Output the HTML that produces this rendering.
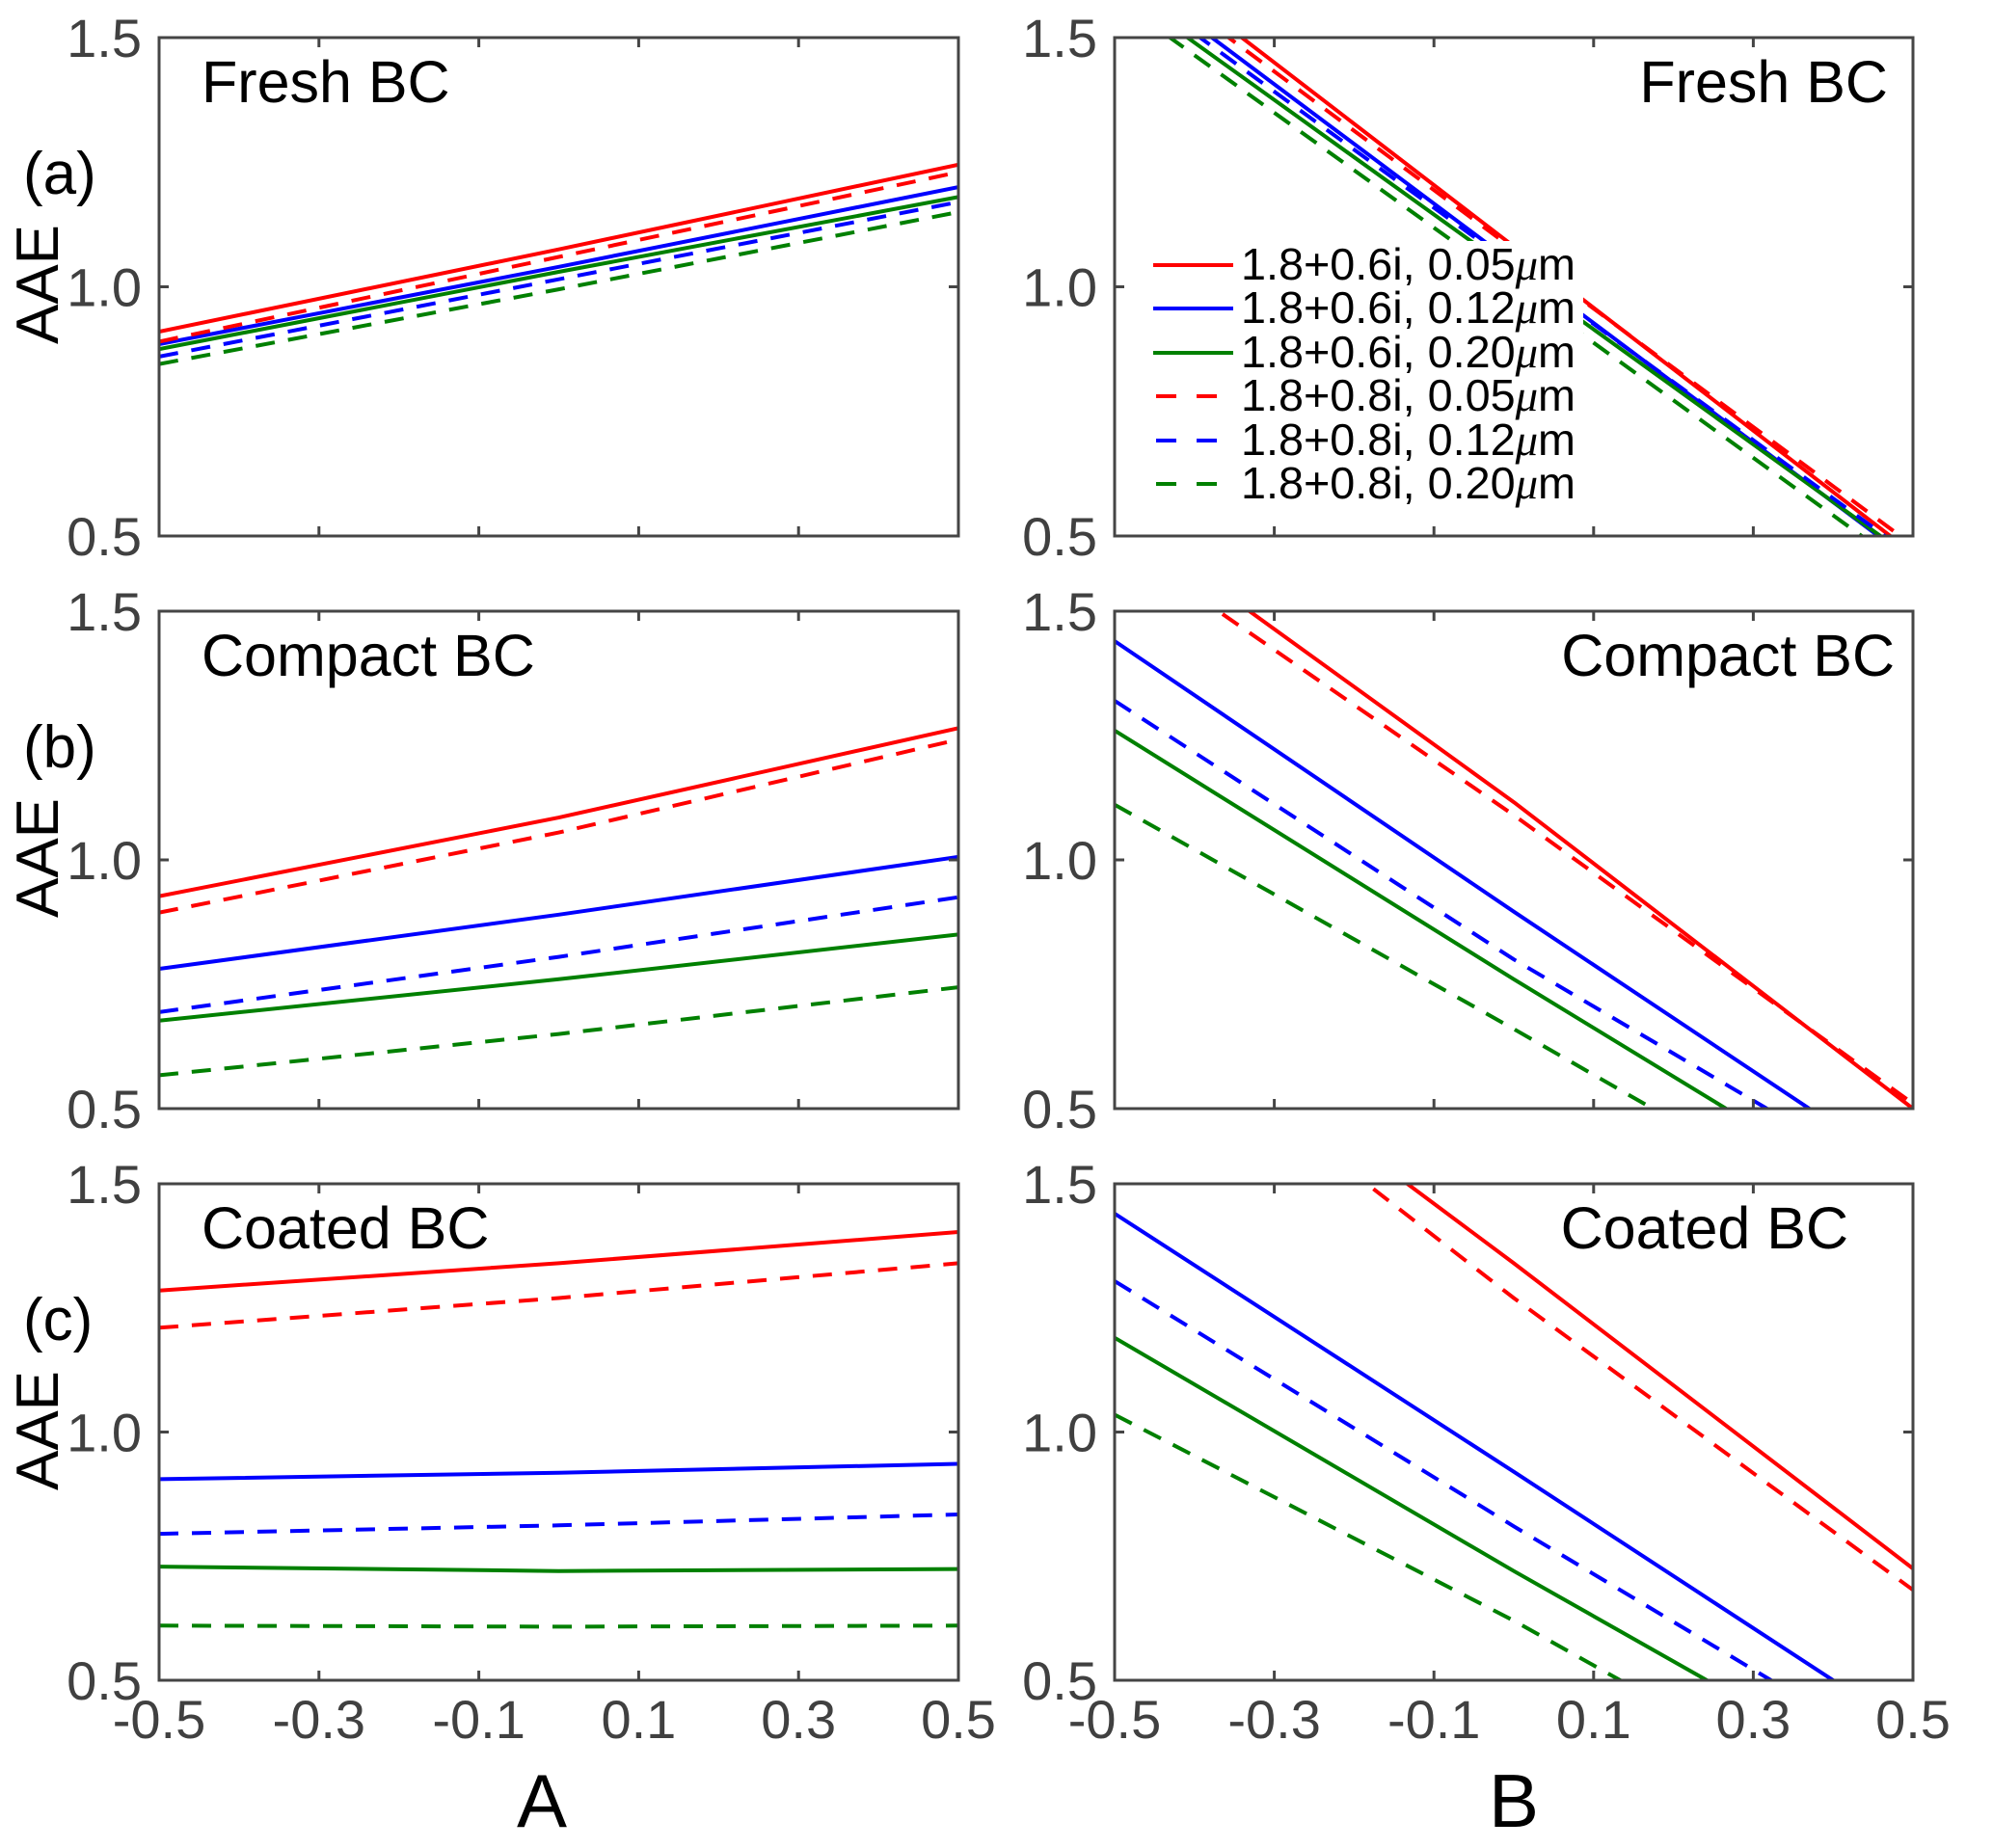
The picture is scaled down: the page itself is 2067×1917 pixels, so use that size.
<!DOCTYPE html>
<html>
<head>
<meta charset="utf-8">
<style>
html,body{margin:0;padding:0;background:#fff;}
svg{display:block;}
text{font-family:"Liberation Sans",sans-serif;}
</style>
</head>
<body>
<svg id="fig" width="2067" height="1917" viewBox="0 0 2067 1917" xmlns="http://www.w3.org/2000/svg"></svg>
<script>
// ---- data ----
const xPts = [-0.5, 0, 0.5];
const seriesLabels = ["1.8+0.6i, 0.05", "1.8+0.6i, 0.12", "1.8+0.6i, 0.20", "1.8+0.8i, 0.05", "1.8+0.8i, 0.12", "1.8+0.8i, 0.20"];
const xTicks = [-0.5, -0.3, -0.1, 0.1, 0.3, 0.5];
const xTickLabels = ["-0.5", "-0.3", "-0.1", "0.1", "0.3", "0.5"];
const yTicks = [0.5, 1.0, 1.5];
const yTickLabels = ["0.5", "1.0", "1.5"];
const panelTitles = ["Fresh BC", "Compact BC", "Coated BC"];
const rowTags = ["(a)", "(b)", "(c)"];
// series order: red solid, blue solid, green solid, red dashed, blue dashed, green dashed
const freshA = [[0.91,1.075,1.245],[0.885,1.04,1.20],[0.875,1.03,1.18],[0.89,1.06,1.23],[0.86,1.015,1.17],[0.845,0.995,1.15]];
const compactA = [[0.927,1.085,1.265],[0.781,0.89,1.006],[0.677,0.76,0.850],[0.894,1.055,1.242],[0.694,0.805,0.925],[0.567,0.65,0.744]];
const coatedA = [[1.285,1.34,1.403],[0.905,0.918,0.936],[0.729,0.72,0.724],[1.21,1.27,1.34],[0.795,0.812,0.834],[0.61,0.608,0.61]];
const freshB = [[1.696,1.081,0.465],[1.646,1.047,0.448],[1.605,1.03,0.453],[1.67,1.075,0.481],[1.625,1.042,0.459],[1.58,1.003,0.426]];
const compactB = [[1.696,1.116,0.5],[1.44,0.896,0.361],[1.26,0.76,0.271],[1.644,1.09,0.51],[1.32,0.80,0.327],[1.111,0.66,0.2]];
const coatedB = [[1.94,1.34,0.725],[1.44,0.92,0.395],[1.19,0.72,0.265],[1.895,1.27,0.682],[1.304,0.81,0.329],[1.035,0.62,0.17]];

const NS = "http://www.w3.org/2000/svg";
const svg = document.getElementById("fig");
const colors = ["#ff0000","#0000ff","#008000","#ff0000","#0000ff","#008000"];
const dashes = [null,null,null,"20,14","20,14","20,14"];
const colX = [[165,994],[1156,1984]];
const rowY = [[39,556],[634,1150],[1228,1743]];
const xMin=-0.5,xMax=0.5,yMin=0.5,yMax=1.5;

function mk(tag, attrs, parent){
  const e=document.createElementNS(NS,tag);
  for(const k in attrs) e.setAttribute(k,attrs[k]);
  (parent||svg).appendChild(e);
  return e;
}
const defs = mk("defs",{});

const data = [[freshA,freshB],[compactA,compactB],[coatedA,coatedB]];
const slug = ["fresh","compact","coated"];

for(let r=0;r<3;r++){
  for(let c=0;c<2;c++){
    const [L,R]=colX[c], [T,B]=rowY[r];
    const sx=v=>L+(v-xMin)/(xMax-xMin)*(R-L);
    const sy=v=>B-(v-yMin)/(yMax-yMin)*(B-T);
    const g=mk("g",{});
    
    
    const cid="clip"+r+c;
    const cp=mk("clipPath",{id:cid},defs);
    mk("rect",{x:L,y:T,width:R-L,height:B-T},cp);
    const ser=data[r][c];
    const sg=mk("g",{"clip-path":"url(#"+cid+")"},g);
    for(let s=0;s<ser.length;s++){
      const pts=ser[s].map((v,i)=>sx(xPts[i]).toFixed(1)+","+sy(v).toFixed(1)).join(" ");
      const pl=mk("polyline",{points:pts,fill:"none",stroke:colors[s],"stroke-width":4,"stroke-linejoin":"round"},sg);
      if(dashes[s]) pl.setAttribute("stroke-dasharray",dashes[s]);
      
      
    }
    const box=mk("rect",{x:L,y:T,width:R-L,height:B-T,fill:"none",stroke:"#454545","stroke-width":3},g);
    
    
    xTicks.forEach((t,i)=>{
      const x=sx(t);
      mk("line",{x1:x,y1:B,x2:x,y2:B-10,stroke:"#454545","stroke-width":3},g);
      mk("line",{x1:x,y1:T,x2:x,y2:T+10,stroke:"#454545","stroke-width":3},g);
      if(r===2){
        const tl=mk("text",{x:x,y:1803,"font-size":56,fill:"#404040","text-anchor":"middle"},g);
        tl.textContent=xTickLabels[i];
        
        
      }
    });
    yTicks.forEach((t,i)=>{
      const y=sy(t);
      mk("line",{x1:L,y1:y,x2:L+10,y2:y,stroke:"#454545","stroke-width":3},g);
      mk("line",{x1:R,y1:y,x2:R-10,y2:y,stroke:"#454545","stroke-width":3},g);
      const tl=mk("text",{x:L-18,y:y+20,"font-size":56,fill:"#404040","text-anchor":"end"},g);
      tl.textContent=yTickLabels[i];
      
      
    });
    let tx, anchor;
    if(c===0){tx=209;anchor="start";}
    else{tx=[1958,1965,1917][r];anchor="end";}
    const tt=mk("text",{x:tx,y:T+67,"font-size":61,fill:"#000","text-anchor":anchor},g);
    tt.textContent=panelTitles[r];
    
    
  }
  const T=rowY[r][0];
  const tag=mk("text",{x:24,y:T+162,"font-size":62,fill:"#000"});
  tag.textContent=rowTags[r];
  
  
  const yl=mk("text",{x:0,y:0,"font-size":62,fill:"#000","text-anchor":"middle",transform:"translate(60,"+(T+256)+") rotate(-90)"});
  yl.textContent="AAE";
  
  
}
const xa=mk("text",{x:562,y:1895,"font-size":78,fill:"#000","text-anchor":"middle"});
xa.textContent="A";


const xb=mk("text",{x:1570,y:1895,"font-size":78,fill:"#000","text-anchor":"middle"});
xb.textContent="B";



const lg=mk("g",{});


mk("rect",{x:1190,y:250,width:452,height:272,fill:"#fff"},lg);
const legY=[275,320,366,411,457,502];
seriesLabels.forEach((lab,i)=>{
  const e=mk("g",{},lg);
  
  
  const ln=mk("line",{x1:1196,y1:legY[i],x2:1279,y2:legY[i],stroke:colors[i],"stroke-width":4},e);
  if(dashes[i]){ln.setAttribute("x1",1199);ln.setAttribute("x2",1262);ln.setAttribute("stroke-dasharray","21,21");}
  const t=mk("text",{x:1287,y:legY[i]+15,"font-size":46,fill:"#000",textLength:347,lengthAdjust:"spacingAndGlyphs"},e);
  t.appendChild(document.createTextNode(lab));
  const mu=mk("tspan",{"font-style":"italic","font-family":"Liberation Serif, serif"},t);
  mu.textContent="\u03bc";
  const m=mk("tspan",{},t);
  m.textContent="m";
});
</script>
</body>
</html>
